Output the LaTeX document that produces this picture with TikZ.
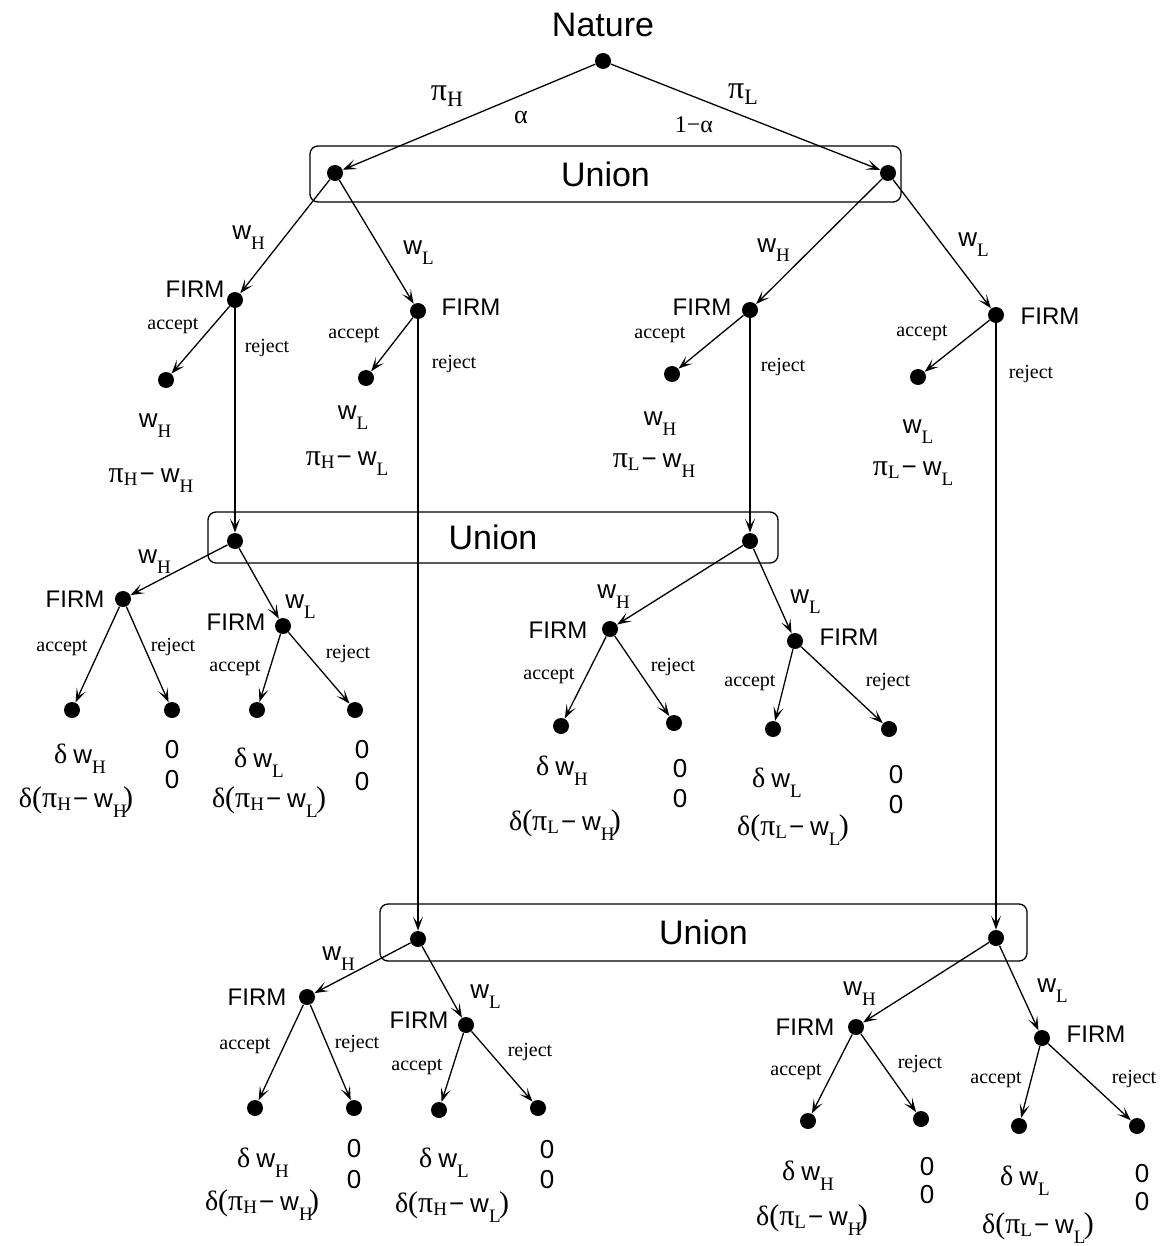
\documentclass[tikz,border=0pt]{standalone}
\usepackage{fontspec}
\setmainfont{Liberation Serif}
\setsansfont{Liberation Sans}
\usetikzlibrary{arrows.meta}
\newcommand\sfw{\fontsize{13}{14}\selectfont\sffamily}
\newcommand\subf{\fontsize{9.5}{10}\selectfont\rmfamily}
\newcommand\grk{\fontsize{15}{16}\selectfont\rmfamily}
\newcommand\dlt{{\fontsize{14}{16}\selectfont\rmfamily δ}}
\newcommand\lpar{{\fontsize{15}{16}\selectfont\rmfamily (}}
\newcommand\rpar{{\fontsize{15}{16}\selectfont\rmfamily )}}
\newcommand\Wv[1]{{\sfw w}\raisebox{-5pt}{\subf #1}}
\newcommand\Wp[1]{{\sfw w}\rlap{\raisebox{-5pt}{\subf #1}}\kern5pt}
\newcommand\Pv[1]{{\grk π}\raisebox{-1.5pt}{\subf #1}}
\newcommand\mns{\kern1pt{\sfw −}\kern3pt}
\newcommand\payA[2]{\Pv{#1}\mns\Wv{#2}}
\newcommand\payD[2]{\dlt\lpar\Pv{#1}\mns\Wp{#2}\rpar}
\newcommand\dw[1]{\dlt\kern3pt\Wv{#1}}
\begin{document}
\begin{tikzpicture}[x=0.5pt,y=-0.5pt,
  dot/.style={circle,fill=black,inner sep=0pt,minimum size=8pt},
  arr/.style={-{Stealth[length=7pt,width=5pt,inset=3.5pt]},line width=0.65pt},
  ubox/.style={draw,line width=0.65pt,rounded corners=4pt,inner sep=0pt,
    font=\fontsize{17}{18}\selectfont\sffamily},
  firm/.style={inner sep=0pt,anchor=base,font=\fontsize{12}{13}\selectfont\sffamily},
  act/.style={inner sep=0pt,font=\fontsize{10}{11}\selectfont\rmfamily},
  wl/.style={inner sep=0pt,anchor=base west},
  pay/.style={inner sep=0pt,anchor=base},
  zero/.style={inner sep=0pt,anchor=base,font=\fontsize{13}{14}\selectfont\sffamily}]
\useasboundingbox (0,0) rectangle (1164,1246);
\fill[white] (0,0) rectangle (1164,1246);
% Union boxes
\node[ubox,minimum width=295.5pt,minimum height=28pt] (B1) at (605.5,174) {Union};
\node[ubox,minimum width=285pt,minimum height=25.5pt] (B2) at (493,537.5) {Union};
\node[ubox,minimum width=323.5pt,minimum height=28.5pt] (B3) at (703.5,932.5) {Union};
% dots
\node[dot] (N) at (603,61) {};
\node[dot] (U1a) at (335,173) {};
\node[dot] (U1b) at (888,173) {};
\node[dot] (F1) at (235,300) {};
\node[dot] (F2) at (418,311) {};
\node[dot] (F3) at (750,310) {};
\node[dot] (F4) at (996,315) {};
\node[dot] (A1) at (166,380) {};
\node[dot] (A2) at (366,378) {};
\node[dot] (A3) at (672,374) {};
\node[dot] (A4) at (918,377) {};
\node[dot] (U2a) at (235,541) {};
\node[dot] (U2b) at (750,541) {};
\node[dot] (G1) at (123,599) {};
\node[dot] (G2) at (283,626) {};
\node[dot] (G1a) at (72,710) {};
\node[dot] (G1r) at (172,710) {};
\node[dot] (G2a) at (257,710) {};
\node[dot] (G2r) at (355,710) {};
\node[dot] (H1) at (610,629) {};
\node[dot] (H2) at (795,641) {};
\node[dot] (H1a) at (561,726) {};
\node[dot] (H1r) at (674,723) {};
\node[dot] (H2a) at (773,729) {};
\node[dot] (H2r) at (889,729) {};
\node[dot] (U3a) at (418,939) {};
\node[dot] (U3b) at (996,938) {};
\node[dot] (I1) at (307,997) {};
\node[dot] (I2) at (466,1025) {};
\node[dot] (I1a) at (255,1108) {};
\node[dot] (I1r) at (354,1108) {};
\node[dot] (I2a) at (439,1110) {};
\node[dot] (I2r) at (538,1108) {};
\node[dot] (J1) at (856,1027) {};
\node[dot] (J2) at (1042,1038) {};
\node[dot] (J1a) at (808,1121) {};
\node[dot] (J1r) at (921,1119) {};
\node[dot] (J2a) at (1019,1126) {};
\node[dot] (J2r) at (1137,1126) {};
% edges
\foreach \a/\b in {N/U1a,N/U1b,U1a/F1,U1a/F2,U1b/F3,U1b/F4,
  F1/A1,F2/A2,F3/A3,F4/A4,F1/U2a,F3/U2b,F2/U3a,F4/U3b,
  U2a/G1,U2a/G2,G1/G1a,G1/G1r,G2/G2a,G2/G2r,
  U2b/H1,U2b/H2,H1/H1a,H1/H1r,H2/H2a,H2/H2r,
  U3a/I1,U3a/I2,I1/I1a,I1/I1r,I2/I2a,I2/I2r,
  U3b/J1,U3b/J2,J1/J1a,J1/J1r,J2/J2a,J2/J2r}
  \draw[arr] (\a) -- (\b);
% top labels
\node[inner sep=0pt,font=\fontsize{17}{18}\selectfont\sffamily] (nat) at (603,25) {Nature};
\node[inner sep=0pt] (lpH) at (447,96) {{\fontsize{16}{16}\selectfont π}\raisebox{-3pt}{\fontsize{11}{11}\selectfont H}};
\node[inner sep=0pt] (lpL) at (743,94) {{\fontsize{16}{16}\selectfont π}\raisebox{-3pt}{\fontsize{11}{11}\selectfont L}};
\node[inner sep=0pt,font=\fontsize{13}{13}\selectfont] (lal) at (521,117) {α};
\node[inner sep=0pt,font=\fontsize{12}{12}\selectfont] (l1al) at (694,125) {1−α};
% w labels
\node[wl] (w1) at (232,240) {\Wv{H}};
\node[wl] (w2) at (403,255) {\Wv{L}};
\node[wl] (w3) at (757,252) {\Wv{H}};
\node[wl] (w4) at (958,247) {\Wv{L}};
\node[wl] (w5) at (138,563) {\Wv{H}};
\node[wl] (w6) at (285,608) {\Wv{L}};
\node[wl] (w7) at (597,598) {\Wv{H}};
\node[wl] (w8) at (790,603) {\Wv{L}};
\node[wl] (w9) at (322,960) {\Wv{H}};
\node[wl] (w10) at (470,998) {\Wv{L}};
\node[wl] (w11) at (843,995) {\Wv{H}};
\node[wl] (w12) at (1037,992) {\Wv{L}};
% FIRM labels
\node[firm] (tF1) at (195,297) {FIRM};
\node[firm] (tF2) at (471,315) {FIRM};
\node[firm] (tF3) at (702,315) {FIRM};
\node[firm] (tF4) at (1050,324) {FIRM};
\node[firm] (tG1) at (75,607) {FIRM};
\node[firm] (tG2) at (236,630) {FIRM};
\node[firm] (tH1) at (558,638) {FIRM};
\node[firm] (tH2) at (849,645) {FIRM};
\node[firm] (tI1) at (257,1005) {FIRM};
\node[firm] (tI2) at (419,1028) {FIRM};
\node[firm] (tJ1) at (805,1035) {FIRM};
\node[firm] (tJ2) at (1096,1042) {FIRM};
% accept / reject labels
\node[act] (aF1) at (173,326) {accept};
\node[act] (rF1) at (267,348) {reject};
\node[act] (aF2) at (354,335) {accept};
\node[act] (rF2) at (454,364) {reject};
\node[act] (aF3) at (660,335) {accept};
\node[act] (rF3) at (783,367) {reject};
\node[act] (aF4) at (922,333) {accept};
\node[act] (rF4) at (1031,374) {reject};
\node[act] (aG1) at (62,648) {accept};
\node[act] (rG1) at (173,647) {reject};
\node[act] (aG2) at (235,668) {accept};
\node[act] (rG2) at (348,654) {reject};
\node[act] (aH1) at (549,676) {accept};
\node[act] (rH1) at (673,667) {reject};
\node[act] (aH2) at (750,683) {accept};
\node[act] (rH2) at (888,682) {reject};
\node[act] (aI1) at (245,1046) {accept};
\node[act] (rI1) at (357,1044) {reject};
\node[act] (aI2) at (417,1067) {accept};
\node[act] (rI2) at (530,1052) {reject};
\node[act] (aJ1) at (796,1072) {accept};
\node[act] (rJ1) at (920,1064) {reject};
\node[act] (aJ2) at (996,1080) {accept};
\node[act] (rJ2) at (1134,1079) {reject};
% payoffs level 1
\node[pay] (pA1a) at (155,427) {\Wv{H}};
\node[pay] (pA1b) at (151,482) {\payA{H}{H}};
\node[pay] (pA2a) at (353,419) {\Wv{L}};
\node[pay] (pA2b) at (347,465) {\payA{H}{L}};
\node[pay] (pA3a) at (660,425) {\Wv{H}};
\node[pay] (pA3b) at (654,467) {\payA{L}{H}};
\node[pay] (pA4a) at (918,433) {\Wv{L}};
\node[pay] (pA4b) at (913,475) {\payA{L}{L}};
% payoffs level 2
\node[pay] (pG1a) at (80,763) {\dw{H}};
\node[pay] (pG1b) at (76,807) {\payD{H}{H}};
\node[zero] (zG1a) at (172,758) {0};
\node[zero] (zG1b) at (172,788) {0};
\node[pay] (pG2a) at (259,767) {\dw{L}};
\node[pay] (pG2b) at (269,807) {\payD{H}{L}};
\node[zero] (zG2a) at (362,758) {0};
\node[zero] (zG2b) at (362,790) {0};
\node[pay] (pH1a) at (562,775) {\dw{H}};
\node[pay] (pH1b) at (565,830) {\payD{L}{H}};
\node[zero] (zH1a) at (680,777) {0};
\node[zero] (zH1b) at (680,807) {0};
\node[pay] (pH2a) at (777,787) {\dw{L}};
\node[pay] (pH2b) at (793,835) {\payD{L}{L}};
\node[zero] (zH2a) at (896,783) {0};
\node[zero] (zH2b) at (896,813) {0};
% payoffs level 3
\node[pay] (pI1a) at (263,1167) {\dw{H}};
\node[pay] (pI1b) at (262,1210) {\payD{H}{H}};
\node[zero] (zI1a) at (354,1157) {0};
\node[zero] (zI1b) at (354,1188) {0};
\node[pay] (pI2a) at (444,1167) {\dw{L}};
\node[pay] (pI2b) at (452,1212) {\payD{H}{L}};
\node[zero] (zI2a) at (547,1158) {0};
\node[zero] (zI2b) at (547,1188) {0};
\node[pay] (pJ1a) at (808,1180) {\dw{H}};
\node[pay] (pJ1b) at (812,1225) {\payD{L}{H}};
\node[zero] (zJ1a) at (927,1175) {0};
\node[zero] (zJ1b) at (927,1203) {0};
\node[pay] (pJ2a) at (1025,1185) {\dw{L}};
\node[pay] (pJ2b) at (1038,1233) {\payD{L}{L}};
\node[zero] (zJ2a) at (1142,1182) {0};
\node[zero] (zJ2b) at (1142,1210) {0};
\end{tikzpicture}
\end{document}
